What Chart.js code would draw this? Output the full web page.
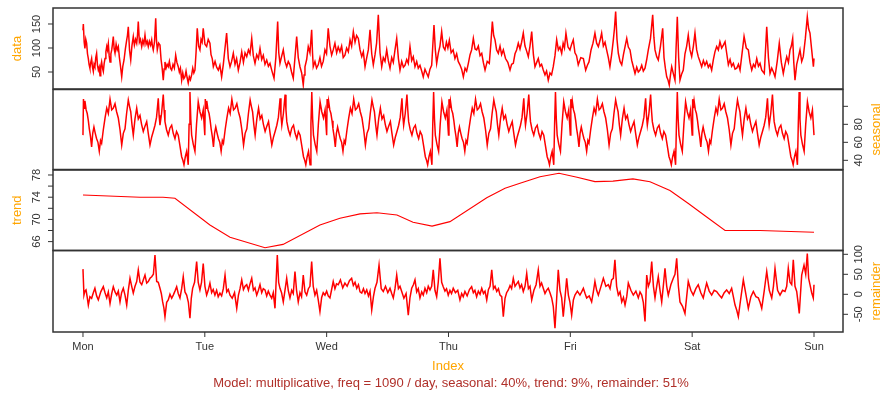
<!DOCTYPE html>
<html><head><meta charset="utf-8">
<script src="https://cdn.jsdelivr.net/npm/chart.js@4.4.1/dist/chart.umd.min.js"></script>
<style>
html,body{margin:0;padding:0;background:#fff;}
#wrap{position:relative;width:882px;height:394px;overflow:hidden;background:#fff;}
#wrap canvas{position:absolute;left:0;top:0;}
</style></head>
<body><div id="wrap">
<canvas id="c0" width="882" height="394"></canvas>
<canvas id="c1" width="882" height="394"></canvas>
<canvas id="c2" width="882" height="394"></canvas>
<canvas id="c3" width="882" height="394"></canvas>
</div>
<script>
// ---------- data: [time in days since Monday 00:00, value] ----------
const dayLabels = ['Mon','Tue','Wed','Thu','Fri','Sat','Sun'];
const dayTicks = [0,1,2,3,4,5,6];

const dataTicks = [50,100,150];
const dataTickLabels = ['50','100','150'];
const seasonalTicks = [40,60,80,100];
const seasonalTickLabels = ['40','60','80',''];
const trendTicks = [66,68,70,72,74,76,78];
const trendTickLabels = ['66','','70','','74','','78'];
const remainderTicks = [-50,0,50,100];
const remainderTickLabels = ['-50','0','50','100'];

const dataSeries = [
[0,137],[0.003,150],[0.010,112],[0.016,99],[0.023,118],[0.030,110],[0.037,88],[0.044,78],[0.050,66],[0.057,58],[0.064,70],[0.071,78],[0.078,60],[0.085,51],[0.091,66],[0.098,61],[0.105,80],[0.112,89],[0.119,64],[0.126,54],[0.133,60],[0.140,42],[0.146,62],[0.153,71],[0.160,58],[0.167,51],[0.174,68],[0.181,78],[0.188,92],[0.195,103],[0.201,96],[0.208,109],[0.215,84],[0.222,71],[0.229,88],[0.236,96],[0.242,108],[0.249,124],[0.256,98],[0.263,89],[0.272,108],[0.281,96],[0.290,103],[0.299,80],[0.308,62],[0.318,40],[0.327,62],[0.337,75],[0.348,98],[0.359,117],[0.365,126],[0.372,144],[0.382,96],[0.392,75],[0.402,105],[0.413,124],[0.422,106],[0.432,118],[0.441,110],[0.448,128],[0.454,155],[0.463,112],[0.472,118],[0.482,103],[0.491,116],[0.500,108],[0.509,127],[0.518,108],[0.527,114],[0.536,103],[0.545,114],[0.555,106],[0.564,117],[0.570,104],[0.577,96],[0.587,112],[0.597,162],[0.603,118],[0.610,96],[0.621,110],[0.632,106],[0.641,76],[0.650,58],[0.659,33],[0.666,56],[0.673,71],[0.682,58],[0.691,66],[0.700,61],[0.709,72],[0.718,58],[0.728,54],[0.739,66],[0.750,58],[0.761,85],[0.771,70],[0.782,61],[0.791,50],[0.800,58],[0.810,33],[0.819,48],[0.828,36],[0.837,40],[0.846,52],[0.855,38],[0.864,27],[0.873,40],[0.882,34],[0.892,44],[0.901,58],[0.910,48],[0.919,54],[0.928,90],[0.938,141],[0.949,104],[0.960,96],[0.969,118],[0.978,112],[0.987,141],
[1.001,108],[1.015,103],[1.028,118],[1.042,110],[1.051,86],[1.061,78],[1.070,61],[1.084,72],[1.097,60],[1.111,54],[1.124,64],[1.138,40],[1.152,66],[1.165,98],[1.179,131],[1.193,78],[1.207,61],[1.220,72],[1.234,89],[1.248,66],[1.261,78],[1.275,54],[1.289,70],[1.303,92],[1.317,70],[1.330,90],[1.344,82],[1.358,96],[1.371,88],[1.385,120],[1.398,84],[1.412,68],[1.426,86],[1.440,78],[1.453,99],[1.467,76],[1.480,85],[1.494,66],[1.508,75],[1.522,62],[1.535,68],[1.549,54],[1.568,37],[1.583,80],[1.598,155],[1.607,90],[1.617,68],[1.630,82],[1.644,96],[1.658,72],[1.672,61],[1.685,72],[1.699,65],[1.712,50],[1.726,37],[1.740,80],[1.754,124],[1.767,80],[1.781,61],[1.795,48],[1.808,23],[1.815,44],[1.822,61],[1.836,76],[1.849,103],[1.863,90],[1.877,138],[1.884,90],[1.890,61],[1.904,72],[1.917,58],[1.931,65],[1.945,80],[1.958,62],[1.972,72],[1.986,96],[1.999,88],
[2.013,141],[2.027,104],[2.041,85],[2.054,96],[2.068,110],[2.082,90],[2.095,102],[2.109,92],[2.123,104],[2.136,80],[2.150,85],[2.164,100],[2.178,92],[2.192,117],[2.205,104],[2.219,134],[2.233,112],[2.246,126],[2.260,120],[2.274,96],[2.288,82],[2.301,92],[2.315,61],[2.329,80],[2.342,96],[2.356,138],[2.370,88],[2.383,65],[2.397,86],[2.410,110],[2.424,169],[2.438,90],[2.452,61],[2.465,80],[2.479,72],[2.493,96],[2.506,74],[2.520,58],[2.534,80],[2.547,70],[2.561,96],[2.575,120],[2.589,78],[2.602,54],[2.616,72],[2.630,60],[2.643,64],[2.657,76],[2.670,68],[2.684,103],[2.698,74],[2.711,82],[2.725,61],[2.739,72],[2.752,58],[2.766,64],[2.780,52],[2.793,40],[2.807,56],[2.820,48],[2.834,40],[2.848,56],[2.862,64],[2.881,148],[2.892,96],[2.903,68],[2.917,90],[2.930,104],[2.944,134],[2.958,102],[2.971,96],[2.983,112],[2.995,100],
[3.007,116],[3.022,90],[3.038,96],[3.053,78],[3.067,88],[3.080,72],[3.094,65],[3.108,56],[3.122,40],[3.136,58],[3.149,52],[3.163,68],[3.177,86],[3.190,96],[3.204,120],[3.218,98],[3.231,96],[3.245,104],[3.259,84],[3.273,89],[3.286,70],[3.300,54],[3.318,72],[3.335,68],[3.348,110],[3.360,155],[3.371,126],[3.382,117],[3.395,96],[3.409,89],[3.423,104],[3.436,86],[3.450,96],[3.468,78],[3.487,70],[3.505,54],[3.518,66],[3.532,68],[3.546,88],[3.559,96],[3.573,110],[3.587,98],[3.600,112],[3.614,131],[3.628,104],[3.641,94],[3.655,82],[3.669,104],[3.683,134],[3.697,86],[3.710,61],[3.724,70],[3.737,78],[3.751,62],[3.764,66],[3.778,54],[3.792,44],[3.805,52],[3.819,33],[3.833,48],[3.846,44],[3.860,61],[3.874,84],[3.888,117],[3.902,96],[3.915,102],[3.929,89],[3.941,110],[3.952,100],[3.964,131],[3.981,102],[3.997,96],
[4.011,108],[4.024,117],[4.038,90],[4.051,84],[4.065,65],[4.086,80],[4.107,78],[4.126,54],[4.140,64],[4.153,71],[4.170,96],[4.186,110],[4.202,131],[4.216,110],[4.230,103],[4.244,116],[4.257,131],[4.271,104],[4.285,112],[4.298,96],[4.312,80],[4.325,61],[4.339,86],[4.353,117],[4.362,140],[4.372,176],[4.383,118],[4.394,89],[4.408,72],[4.422,65],[4.436,86],[4.450,104],[4.463,120],[4.476,102],[4.490,96],[4.504,74],[4.518,60],[4.531,47],[4.545,60],[4.558,50],[4.572,54],[4.586,64],[4.599,52],[4.613,58],[4.627,76],[4.640,96],[4.658,120],[4.676,169],[4.686,122],[4.695,96],[4.709,82],[4.722,75],[4.740,104],[4.758,141],[4.769,80],[4.780,58],[4.791,40],[4.801,34],[4.812,23],[4.822,44],[4.832,61],[4.846,46],[4.859,33],[4.868,100],[4.878,165],[4.889,80],[4.900,33],[4.914,46],[4.927,54],[4.941,88],[4.955,104],[4.968,127],[4.982,96],[4.996,82],
[5.010,104],[5.023,131],[5.037,96],[5.050,82],[5.064,72],[5.078,61],[5.092,74],[5.105,64],[5.119,72],[5.133,60],[5.146,66],[5.160,54],[5.174,76],[5.187,92],[5.201,103],[5.215,96],[5.228,113],[5.242,100],[5.256,106],[5.270,113],[5.284,88],[5.297,65],[5.311,76],[5.324,62],[5.338,68],[5.352,56],[5.366,58],[5.380,66],[5.393,54],[5.410,90],[5.426,124],[5.444,100],[5.461,96],[5.475,70],[5.489,54],[5.503,66],[5.516,60],[5.530,78],[5.544,62],[5.557,68],[5.571,54],[5.592,47],[5.612,144],[5.626,80],[5.639,47],[5.653,58],[5.667,50],[5.680,40],[5.698,72],[5.715,110],[5.732,70],[5.748,47],[5.762,66],[5.776,82],[5.790,70],[5.803,96],[5.814,104],[5.825,120],[5.834,70],[5.844,33],[5.858,66],[5.871,80],[5.885,96],[5.899,72],[5.912,82],[5.929,120],[5.945,165],[5.956,140],[5.967,131],[5.981,96],[5.995,61],[6.000,78]];

const seasonalSeries = [
[0,68],[0.004,108],[0.010,98],[0.016,106],[0.026,96],[0.035,92],[0.044,84],[0.052,75],[0.062,66],[0.071,55],[0.080,70],[0.090,77],[0.101,70],[0.112,64],[0.123,60],[0.134,50],[0.144,62],[0.153,59],[0.167,74],[0.181,87],[0.195,98],[0.208,92],[0.222,108],[0.236,96],[0.249,98],[0.263,103],[0.276,94],[0.290,87],[0.304,74],[0.318,57],[0.331,70],[0.345,75],[0.358,92],[0.372,107],[0.382,100],[0.392,94],[0.402,80],[0.413,68],[0.427,86],[0.441,98],[0.454,86],[0.468,90],[0.481,80],[0.495,72],[0.509,78],[0.523,83],[0.536,70],[0.550,57],[0.564,66],[0.577,72],[0.591,79],[0.604,88],[0.618,109],[0.625,90],[0.632,79],[0.645,92],[0.659,113],[0.666,96],[0.673,83],[0.686,74],[0.700,68],[0.714,76],[0.728,79],[0.741,70],[0.755,64],[0.768,72],[0.782,68],[0.796,56],[0.810,44],[0.820,40],[0.829,35],[0.840,44],[0.851,50],[0.858,42],[0.864,35],[0.871,80],[0.878,116],[0.885,86],[0.892,68],[0.905,58],[0.919,50],[0.932,80],[0.946,105],[0.960,94],[0.974,87],[0.987,96],
[1,68],[1.004,108],[1.010,98],[1.016,106],[1.026,96],[1.035,92],[1.044,84],[1.052,75],[1.062,66],[1.071,55],[1.080,70],[1.090,77],[1.101,70],[1.112,64],[1.123,60],[1.134,50],[1.144,62],[1.153,59],[1.167,74],[1.181,87],[1.195,98],[1.208,92],[1.222,108],[1.236,96],[1.249,98],[1.263,103],[1.276,94],[1.290,87],[1.304,74],[1.318,57],[1.331,70],[1.345,75],[1.358,92],[1.372,107],[1.382,100],[1.392,94],[1.402,80],[1.413,68],[1.427,86],[1.441,98],[1.454,86],[1.468,90],[1.481,80],[1.495,72],[1.509,78],[1.523,83],[1.536,70],[1.550,57],[1.564,66],[1.577,72],[1.591,79],[1.604,88],[1.618,109],[1.625,90],[1.632,79],[1.645,92],[1.659,113],[1.666,96],[1.673,83],[1.686,74],[1.700,68],[1.714,76],[1.728,79],[1.741,70],[1.755,64],[1.768,72],[1.782,68],[1.796,56],[1.810,44],[1.820,40],[1.829,35],[1.840,44],[1.851,50],[1.858,42],[1.864,35],[1.871,80],[1.878,116],[1.885,86],[1.892,68],[1.905,58],[1.919,50],[1.932,80],[1.946,105],[1.960,94],[1.974,87],[1.987,96],
[2,68],[2.004,108],[2.010,98],[2.016,106],[2.026,96],[2.035,92],[2.044,84],[2.052,75],[2.062,66],[2.071,55],[2.080,70],[2.090,77],[2.101,70],[2.112,64],[2.123,60],[2.134,50],[2.144,62],[2.153,59],[2.167,74],[2.181,87],[2.195,98],[2.208,92],[2.222,108],[2.236,96],[2.249,98],[2.263,103],[2.276,94],[2.290,87],[2.304,74],[2.318,57],[2.331,70],[2.345,75],[2.358,92],[2.372,107],[2.382,100],[2.392,94],[2.402,80],[2.413,68],[2.427,86],[2.441,98],[2.454,86],[2.468,90],[2.481,80],[2.495,72],[2.509,78],[2.523,83],[2.536,70],[2.550,57],[2.564,66],[2.577,72],[2.591,79],[2.604,88],[2.618,109],[2.625,90],[2.632,79],[2.645,92],[2.659,113],[2.666,96],[2.673,83],[2.686,74],[2.700,68],[2.714,76],[2.728,79],[2.741,70],[2.755,64],[2.768,72],[2.782,68],[2.796,56],[2.810,44],[2.820,40],[2.829,35],[2.840,44],[2.851,50],[2.858,42],[2.864,35],[2.871,80],[2.878,116],[2.885,86],[2.892,68],[2.905,58],[2.919,50],[2.932,80],[2.946,105],[2.960,94],[2.974,87],[2.987,96],
[3,68],[3.004,108],[3.010,98],[3.016,106],[3.026,96],[3.035,92],[3.044,84],[3.052,75],[3.062,66],[3.071,55],[3.080,70],[3.090,77],[3.101,70],[3.112,64],[3.123,60],[3.134,50],[3.144,62],[3.153,59],[3.167,74],[3.181,87],[3.195,98],[3.208,92],[3.222,108],[3.236,96],[3.249,98],[3.263,103],[3.276,94],[3.290,87],[3.304,74],[3.318,57],[3.331,70],[3.345,75],[3.358,92],[3.372,107],[3.382,100],[3.392,94],[3.402,80],[3.413,68],[3.427,86],[3.441,98],[3.454,86],[3.468,90],[3.481,80],[3.495,72],[3.509,78],[3.523,83],[3.536,70],[3.550,57],[3.564,66],[3.577,72],[3.591,79],[3.604,88],[3.618,109],[3.625,90],[3.632,79],[3.645,92],[3.659,113],[3.666,96],[3.673,83],[3.686,74],[3.700,68],[3.714,76],[3.728,79],[3.741,70],[3.755,64],[3.768,72],[3.782,68],[3.796,56],[3.810,44],[3.820,40],[3.829,35],[3.840,44],[3.851,50],[3.858,42],[3.864,35],[3.871,80],[3.878,116],[3.885,86],[3.892,68],[3.905,58],[3.919,50],[3.932,80],[3.946,105],[3.960,94],[3.974,87],[3.987,96],
[4,68],[4.004,108],[4.010,98],[4.016,106],[4.026,96],[4.035,92],[4.044,84],[4.052,75],[4.062,66],[4.071,55],[4.080,70],[4.090,77],[4.101,70],[4.112,64],[4.123,60],[4.134,50],[4.144,62],[4.153,59],[4.167,74],[4.181,87],[4.195,98],[4.208,92],[4.222,108],[4.236,96],[4.249,98],[4.263,103],[4.276,94],[4.290,87],[4.304,74],[4.318,57],[4.331,70],[4.345,75],[4.358,92],[4.372,107],[4.382,100],[4.392,94],[4.402,80],[4.413,68],[4.427,86],[4.441,98],[4.454,86],[4.468,90],[4.481,80],[4.495,72],[4.509,78],[4.523,83],[4.536,70],[4.550,57],[4.564,66],[4.577,72],[4.591,79],[4.604,88],[4.618,109],[4.625,90],[4.632,79],[4.645,92],[4.659,113],[4.666,96],[4.673,83],[4.686,74],[4.700,68],[4.714,76],[4.728,79],[4.741,70],[4.755,64],[4.768,72],[4.782,68],[4.796,56],[4.810,44],[4.820,40],[4.829,35],[4.840,44],[4.851,50],[4.858,42],[4.864,35],[4.871,80],[4.878,116],[4.885,86],[4.892,68],[4.905,58],[4.919,50],[4.932,80],[4.946,105],[4.960,94],[4.974,87],[4.987,96],
[5,68],[5.004,108],[5.010,98],[5.016,106],[5.026,96],[5.035,92],[5.044,84],[5.052,75],[5.062,66],[5.071,55],[5.080,70],[5.090,77],[5.101,70],[5.112,64],[5.123,60],[5.134,50],[5.144,62],[5.153,59],[5.167,74],[5.181,87],[5.195,98],[5.208,92],[5.222,108],[5.236,96],[5.249,98],[5.263,103],[5.276,94],[5.290,87],[5.304,74],[5.318,57],[5.331,70],[5.345,75],[5.358,92],[5.372,107],[5.382,100],[5.392,94],[5.402,80],[5.413,68],[5.427,86],[5.441,98],[5.454,86],[5.468,90],[5.481,80],[5.495,72],[5.509,78],[5.523,83],[5.536,70],[5.550,57],[5.564,66],[5.577,72],[5.591,79],[5.604,88],[5.618,109],[5.625,90],[5.632,79],[5.645,92],[5.659,113],[5.666,96],[5.673,83],[5.686,74],[5.700,68],[5.714,76],[5.728,79],[5.741,70],[5.755,64],[5.768,72],[5.782,68],[5.796,56],[5.810,44],[5.820,40],[5.829,35],[5.840,44],[5.851,50],[5.858,42],[5.864,35],[5.871,80],[5.878,116],[5.885,86],[5.892,68],[5.905,58],[5.919,50],[5.932,80],[5.946,105],[5.960,94],[5.974,87],[5.987,96],
[6,68]];

const trendSeries = [[0,74.4],[0.468,74.0],[0.657,74.0],[0.755,73.8],[1.042,69.0],[1.207,66.8],[1.494,64.9],[1.642,65.5],[1.945,69.0],[2.109,70.2],[2.274,71.0],[2.413,71.2],[2.577,70.8],[2.709,69.5],[2.865,68.8],[3.012,69.6],[3.314,73.9],[3.464,75.6],[3.587,76.5],[3.751,77.7],[3.907,78.3],[4.055,77.6],[4.202,76.8],[4.350,76.9],[4.514,77.3],[4.654,76.8],[4.818,75.2],[4.966,72.9],[5.122,70.4],[5.270,68.0],[5.557,68.0],[6.000,67.7]];

const remainderSeries = [
[0,63],[0.008,-2],[0.016,8],[0.025,11],[0.034,-6],[0.044,-27],[0.057,-6],[0.071,-10],[0.085,4],[0.098,15],[0.112,-4],[0.126,-14],[0.146,6],[0.167,19],[0.181,4],[0.195,-9],[0.208,6],[0.222,-23],[0.236,2],[0.249,19],[0.263,6],[0.277,-2],[0.290,8],[0.304,-19],[0.317,4],[0.331,15],[0.345,-2],[0.359,-27],[0.372,10],[0.386,40],[0.400,20],[0.413,3],[0.427,20],[0.441,32],[0.454,61],[0.468,30],[0.482,24],[0.495,36],[0.509,48],[0.523,28],[0.536,32],[0.550,40],[0.564,44],[0.578,50],[0.591,98],[0.605,32],[0.618,30],[0.632,15],[0.643,2],[0.654,-19],[0.664,-34],[0.673,-56],[0.687,-20],[0.700,-14],[0.714,0],[0.728,-10],[0.741,-2],[0.755,8],[0.769,19],[0.782,2],[0.796,-9],[0.810,14],[0.823,44],[0.837,6],[0.851,-2],[0.865,-20],[0.878,-60],[0.889,-10],[0.900,15],[0.916,30],[0.933,82],[0.946,30],[0.960,11],[0.973,30],[0.987,77],
[1.001,20],[1.015,-2],[1.028,10],[1.042,28],[1.056,4],[1.069,12],[1.083,-2],[1.097,10],[1.110,-6],[1.124,3],[1.138,-4],[1.152,14],[1.166,48],[1.180,6],[1.193,12],[1.207,-2],[1.225,-10],[1.244,4],[1.262,-35],[1.276,-2],[1.289,14],[1.303,36],[1.317,12],[1.330,20],[1.344,24],[1.358,10],[1.371,26],[1.385,40],[1.399,10],[1.412,16],[1.426,-2],[1.440,10],[1.453,24],[1.467,4],[1.480,14],[1.494,11],[1.508,-4],[1.521,8],[1.535,-2],[1.549,-10],[1.562,4],[1.576,-35],[1.585,30],[1.595,98],[1.606,30],[1.617,15],[1.630,4],[1.644,-19],[1.658,10],[1.672,40],[1.685,10],[1.699,-9],[1.713,10],[1.726,2],[1.740,57],[1.753,10],[1.767,-19],[1.781,4],[1.794,-6],[1.808,48],[1.822,6],[1.836,-2],[1.850,14],[1.863,20],[1.877,82],[1.890,20],[1.904,-2],[1.918,10],[1.931,-14],[1.945,-43],[1.959,-8],[1.972,4],[1.986,-2],
[2.000,8],[2.013,-4],[2.027,-9],[2.041,12],[2.054,32],[2.068,14],[2.081,26],[2.095,24],[2.113,36],[2.132,16],[2.150,28],[2.168,20],[2.187,34],[2.205,40],[2.219,22],[2.233,30],[2.247,15],[2.261,24],[2.274,6],[2.288,3],[2.302,14],[2.315,2],[2.329,11],[2.343,-4],[2.356,8],[2.370,-39],[2.384,-6],[2.397,15],[2.413,30],[2.430,73],[2.448,14],[2.465,7],[2.483,20],[2.502,4],[2.520,15],[2.534,2],[2.547,-9],[2.561,14],[2.575,48],[2.589,14],[2.602,20],[2.616,7],[2.634,-10],[2.652,2],[2.670,-52],[2.684,-8],[2.698,15],[2.712,24],[2.725,36],[2.739,6],[2.752,14],[2.766,-9],[2.780,6],[2.793,-2],[2.807,15],[2.821,4],[2.834,20],[2.848,11],[2.862,20],[2.875,61],[2.889,10],[2.903,-6],[2.916,30],[2.930,90],[2.944,30],[2.957,19],[2.971,8],[2.984,14],[2.998,-2],
[3.012,10],[3.025,2],[3.039,15],[3.057,4],[3.076,10],[3.094,-14],[3.108,2],[3.121,-6],[3.135,7],[3.153,-4],[3.172,12],[3.190,19],[3.204,4],[3.217,10],[3.231,-6],[3.245,8],[3.259,0],[3.273,15],[3.287,2],[3.300,8],[3.314,-14],[3.328,12],[3.341,20],[3.355,61],[3.369,14],[3.382,20],[3.396,7],[3.410,14],[3.423,-2],[3.437,-6],[3.450,-56],[3.464,-10],[3.477,4],[3.491,11],[3.505,22],[3.518,14],[3.532,40],[3.546,20],[3.559,26],[3.573,32],[3.587,16],[3.600,24],[3.614,7],[3.628,20],[3.642,52],[3.656,14],[3.669,20],[3.683,-14],[3.701,10],[3.719,24],[3.737,61],[3.751,20],[3.764,28],[3.778,15],[3.792,2],[3.805,10],[3.819,15],[3.833,4],[3.847,-9],[3.860,-30],[3.874,-85],[3.888,-10],[3.901,61],[3.915,10],[3.929,-9],[3.942,-56],[3.956,-10],[3.970,40],[3.984,-2],[3.997,-20],
[4.011,-52],[4.025,-14],[4.038,-2],[4.058,8],[4.079,-2],[4.093,6],[4.107,15],[4.121,2],[4.134,-9],[4.155,-4],[4.175,-19],[4.189,6],[4.202,32],[4.216,10],[4.230,-2],[4.250,18],[4.271,40],[4.292,20],[4.312,24],[4.326,14],[4.339,36],[4.353,40],[4.366,86],[4.380,20],[4.394,-2],[4.408,6],[4.422,-19],[4.436,-8],[4.449,-27],[4.463,-6],[4.476,28],[4.497,10],[4.517,-2],[4.538,8],[4.558,-9],[4.572,6],[4.586,-2],[4.599,-20],[4.613,-68],[4.627,48],[4.640,20],[4.654,32],[4.668,82],[4.682,20],[4.695,-9],[4.709,20],[4.722,44],[4.736,10],[4.750,-19],[4.763,20],[4.777,65],[4.791,20],[4.804,-2],[4.825,24],[4.845,40],[4.859,50],[4.873,90],[4.887,20],[4.900,-19],[4.921,-30],[4.941,-48],[4.955,-6],[4.968,32],[4.989,10],
[5.009,-2],[5.030,14],[5.050,24],[5.071,4],[5.091,-9],[5.105,10],[5.119,28],[5.140,8],[5.160,-2],[5.181,10],[5.201,7],[5.222,-2],[5.242,-9],[5.263,4],[5.283,11],[5.304,2],[5.324,15],[5.338,-6],[5.352,-27],[5.366,-40],[5.379,-56],[5.400,-8],[5.420,36],[5.441,0],[5.461,-35],[5.482,-6],[5.502,7],[5.523,-6],[5.543,-9],[5.557,-20],[5.571,-35],[5.592,10],[5.612,57],[5.633,10],[5.653,-9],[5.667,20],[5.680,65],[5.701,10],[5.721,-2],[5.742,10],[5.762,7],[5.776,20],[5.789,65],[5.803,30],[5.817,24],[5.830,86],[5.844,20],[5.858,7],[5.869,-20],[5.879,-48],[5.889,0],[5.899,48],[5.918,73],[5.932,50],[5.945,102],[5.956,40],[5.967,24],[5.981,4],[5.994,-9],[6.000,24]];

const captionText = 'Model: multiplicative, freq = 1090 / day, seasonal: 40%, trend: 9%, remainder: 51%';

// ---------- layout ----------
const FONT = '"Liberation Sans", Arial, Helvetica, sans-serif';
const PLOT_L = 53, PLOT_R = 843, FIG_W = 882, FIG_H = 394;
const X_MIN = -0.246, X_MAX = 6.238;

const rAxes = {
  id: 'rAxes',
  afterDraw(chart, args, o) {
    const ctx = chart.ctx, a = chart.chartArea, ys = chart.scales.y, xs = chart.scales.x;
    ctx.save();
    ctx.strokeStyle = '#333'; ctx.lineWidth = 1.5;
    ctx.strokeRect(a.left, a.top, a.right - a.left, a.bottom - a.top);
    const left = o.side === 'left';
    const ex = left ? a.left : a.right;
    const dir = left ? -1 : 1;
    ctx.lineWidth = 1;
    ctx.fillStyle = '#333';
    ctx.font = '11px ' + FONT;
    ctx.textAlign = 'center'; ctx.textBaseline = 'middle';
    o.ticks.forEach((v, i) => {
      const py = ys.getPixelForValue(v);
      ctx.beginPath(); ctx.moveTo(ex, py); ctx.lineTo(ex + dir * 5, py); ctx.stroke();
      const lab = o.labels[i];
      if (lab) {
        ctx.save(); ctx.translate(ex + dir * 16, py); ctx.rotate(-Math.PI / 2);
        ctx.fillText(lab, 0, 0); ctx.restore();
      }
    });
    ctx.save();
    ctx.translate(left ? 17 : 876, (a.top + a.bottom) / 2);
    ctx.rotate(-Math.PI / 2);
    ctx.fillStyle = '#FFA500'; ctx.font = '13px ' + FONT;
    ctx.fillText(o.title, 0, 0);
    ctx.restore();
    if (o.xAxis) {
      ctx.fillStyle = '#333'; ctx.font = '11px ' + FONT;
      dayTicks.forEach((d, i) => {
        const px = xs.getPixelForValue(d);
        ctx.beginPath(); ctx.moveTo(px, a.bottom); ctx.lineTo(px, a.bottom + 5); ctx.stroke();
        ctx.fillText(dayLabels[i], px, 347);
      });
      const cx = (a.left + a.right) / 2;
      ctx.fillStyle = '#FFA500'; ctx.font = '13px ' + FONT;
      ctx.fillText('Index', cx, 366);
      ctx.fillStyle = '#B0302A'; ctx.font = '13px ' + FONT;
      ctx.fillText(captionText, cx + 3, 383);
    }
    ctx.restore();
  }
};

function pts(series) { return series.map(p => ({ x: p[0], y: p[1] })); }

const panels = [
  { id: 'c0', s: dataSeries, min: 14.6, max: 183.3, top: 8, bottom: 89, ticks: dataTicks, labels: dataTickLabels, side: 'left', title: 'data', w: 1.5 },
  { id: 'c1', s: seasonalSeries, min: 29.8, max: 118.7, top: 89.5, bottom: 169.5, ticks: seasonalTicks, labels: seasonalTickLabels, side: 'right', title: 'seasonal', w: 1.5 },
  { id: 'c2', s: trendSeries, min: 64.4, max: 78.9, top: 170, bottom: 250.5, ticks: trendTicks, labels: trendTickLabels, side: 'left', title: 'trend', w: 1.1 },
  { id: 'c3', s: remainderSeries, min: -94.25, max: 109.5, top: 250.5, bottom: 332, ticks: remainderTicks, labels: remainderTickLabels, side: 'right', title: 'remainder', xAxis: true, w: 1.5 }
];

panels.forEach(p => {
  new Chart(document.getElementById(p.id), {
    type: 'line',
    data: { datasets: [{ data: pts(p.s), borderColor: '#FF0000', borderWidth: p.w, pointRadius: 0, tension: 0, fill: false }] },
    options: {
      responsive: false, animation: false, devicePixelRatio: 1,
      layout: { padding: { left: PLOT_L, right: FIG_W - PLOT_R, top: p.top, bottom: FIG_H - p.bottom } },
      scales: {
        x: { type: 'linear', display: false, min: X_MIN, max: X_MAX },
        y: { type: 'linear', display: false, min: p.min, max: p.max }
      },
      plugins: {
        legend: { display: false }, tooltip: { enabled: false },
        rAxes: { ticks: p.ticks, labels: p.labels, side: p.side, title: p.title, xAxis: !!p.xAxis }
      }
    },
    plugins: [rAxes]
  });
});
</script>
</body></html>
